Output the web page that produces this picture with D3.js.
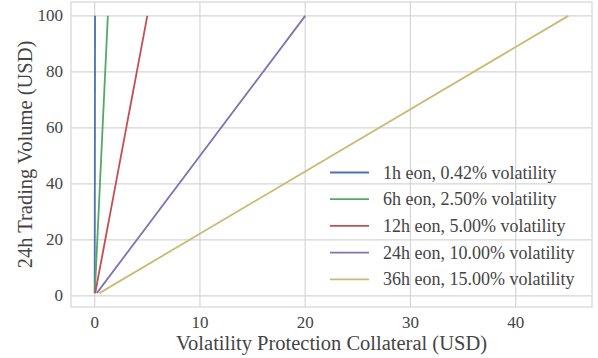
<!DOCTYPE html>
<html>
<head>
<meta charset="utf-8">
<script src="https://cdn.jsdelivr.net/npm/d3@7"></script>
<style>
  body { margin: 0; background: #fff; }
  text { font-family: "Liberation Serif", "DejaVu Serif", serif; fill: #444; }
</style>
</head>
<body>
<script>
// series: eon label, colour, collateral at volume = 1 and volume = 100
var labels = ["1h eon, 0.42% volatility", "6h eon, 2.50% volatility", "12h eon, 5.00% volatility",
              "24h eon, 10.00% volatility", "36h eon, 15.00% volatility"];
var colors = ["#4C72B0", "#55A868", "#C44E52", "#8172B2", "#CCB974"];
var volumes = [1, 100];
var collateral = [
    [0.00035, 0.035],
    [0.0125, 1.25],
    [0.05, 5],
    [0.2, 20],
    [0.45, 45]
];
var xTicks = [0, 10, 20, 30, 40];
var yTicks = [0, 20, 40, 60, 80, 100];

var W = 598, H = 358;
var m = {left: 71, right: 6, top: 2, bottom: 51};

var svg = d3.select("body").append("svg")
    .attr("width", W)
    .attr("height", H);

var x = d3.scaleLinear().domain([-2.25, 47.25]).range([m.left, W - m.right]);
var y = d3.scaleLinear().domain([-3.95, 104.95]).range([H - m.bottom, m.top]);

// grid
svg.selectAll(".gx").data(xTicks).enter().append("line")
    .attr("x1", function(d) { return x(d); }).attr("x2", function(d) { return x(d); })
    .attr("y1", y.range()[0]).attr("y2", y.range()[1])
    .attr("stroke", "#d5d5d5").attr("stroke-width", 1.2);
svg.selectAll(".gy").data(yTicks).enter().append("line")
    .attr("y1", function(d) { return y(d); }).attr("y2", function(d) { return y(d); })
    .attr("x1", x.range()[0]).attr("x2", x.range()[1])
    .attr("stroke", "#d5d5d5").attr("stroke-width", 1.2);

// frame
svg.append("rect")
    .attr("x", m.left).attr("y", m.top)
    .attr("width", W - m.left - m.right).attr("height", H - m.top - m.bottom)
    .attr("fill", "none").attr("stroke", "#d5d5d5").attr("stroke-width", 1.2);

// tick labels
svg.selectAll(".tx").data(xTicks).enter().append("text")
    .attr("x", function(d) { return x(d); })
    .attr("y", y.range()[0] + 21)
    .attr("text-anchor", "middle")
    .style("font-size", "17px")
    .text(function(d) { return d; });
svg.selectAll(".ty").data(yTicks).enter().append("text")
    .attr("x", m.left - 8)
    .attr("y", function(d) { return y(d) + 5.5; })
    .attr("text-anchor", "end")
    .style("font-size", "17px")
    .text(function(d) { return d; });

// axis labels
svg.append("text")
    .attr("x", (x.range()[0] + x.range()[1]) / 2)
    .attr("y", 350)
    .attr("text-anchor", "middle")
    .style("font-size", "20.5px")
    .text("Volatility Protection Collateral (USD)");
svg.append("text")
    .attr("transform", "translate(32," + ((y.range()[0] + y.range()[1]) / 2) + ") rotate(-90)")
    .attr("text-anchor", "middle")
    .style("font-size", "20.5px")
    .text("24h Trading Volume (USD)");

// lines
var line = d3.line()
    .x(function(d) { return x(d[0]); })
    .y(function(d) { return y(d[1]); });

collateral.forEach(function(c, i) {
    var pts = volumes.map(function(v, j) { return [c[j], v]; });
    svg.append("path")
        .datum(pts)
        .attr("d", line)
        .attr("fill", "none")
        .attr("stroke", colors[i])
        .attr("stroke-width", 1.8);
});

// legend
var leg = svg.append("g");
labels.forEach(function(l, i) {
    var ly = 172.5 + i * 26.7;
    leg.append("line")
        .attr("x1", 330).attr("x2", 369)
        .attr("y1", ly).attr("y2", ly)
        .attr("stroke", colors[i]).attr("stroke-width", 1.8);
    leg.append("text")
        .attr("x", 383).attr("y", ly + 6)
        .style("font-size", "18px")
        .text(l);
});
</script>
</body>
</html>
